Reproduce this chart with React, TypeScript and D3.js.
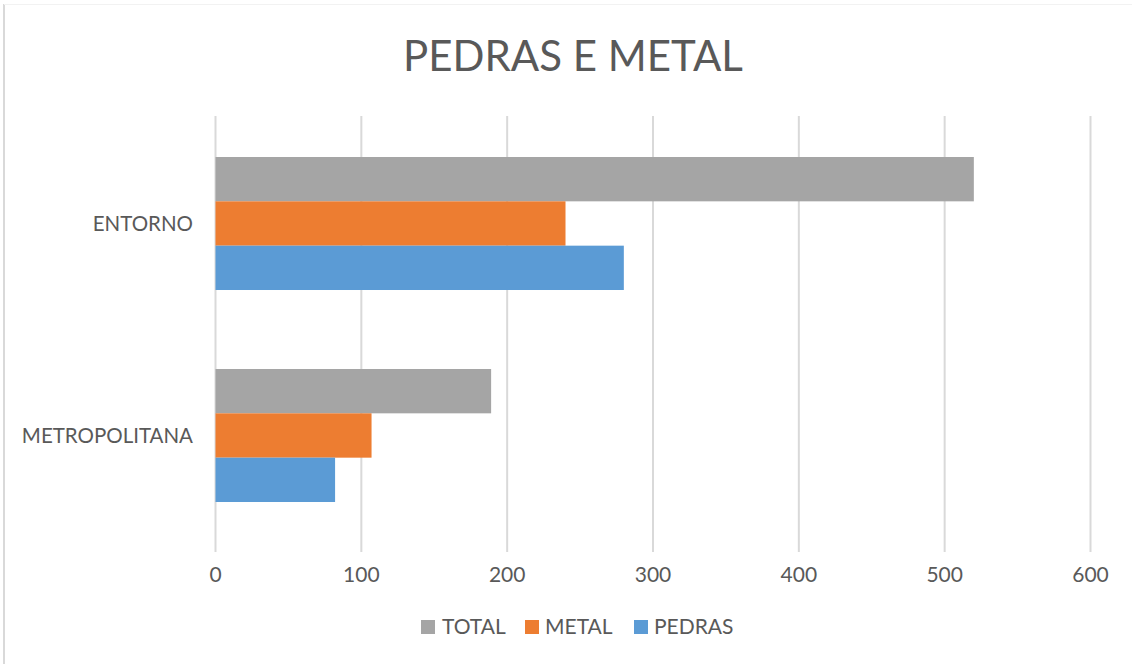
import React from "react";
import * as d3 from "d3";

const categories = ["ENTORNO", "METROPOLITANA"];
const seriesNames = ["TOTAL", "METAL", "PEDRAS"];
const totalValues = [520, 189];
const metalValues = [240, 107];
const pedrasValues = [280, 82];
const xTicks = [0, 100, 200, 300, 400, 500, 600];
const colors = ["#A5A5A5", "#ED7D31", "#5B9BD5"];

const W = 1132;
const H = 664;
const FONT = "Lato, 'Open Sans', sans-serif";
const TEXT = "#595959";

if (typeof document !== "undefined") document.body.style.margin = "0";

export default function App() {
  const x = d3.scaleLinear().domain([0, 600]).range([215.5, 1090.5]);
  const y = d3
    .scaleBand<string>()
    .domain(categories)
    .range([117.5, 541.5])
    .paddingInner(0.3726)
    .paddingOuter(0.1863);
  const sub = d3.scaleBand<string>().domain(seriesNames).range([0, y.bandwidth()]);
  const values = [totalValues, metalValues, pedrasValues];

  return (
    <svg width={W} height={H} style={{ display: "block" }} fontFamily={FONT}>
      <rect x={0} y={0} width={W} height={H} fill="#fff" />
      <line x1={4} x2={4} y1={4} y2={H} stroke="#D9D9D9" strokeWidth={2} />
      <line x1={4} x2={W} y1={4.5} y2={4.5} stroke="#F2F2F2" strokeWidth={1} />
      <text x={573} y={71} textAnchor="middle" fontSize={42} fontWeight={400} fill={TEXT}>
        PEDRAS E METAL
      </text>
      {xTicks.map((t) => (
        <g key={t}>
          <line x1={x(t)} x2={x(t)} y1={116} y2={552} stroke="#D9D9D9" strokeWidth={2} />
          <text x={x(t)} y={582} textAnchor="middle" fontSize={21} fill={TEXT}>
            {t}
          </text>
        </g>
      ))}
      {categories.map((c, ci) => (
        <g key={c}>
          {seriesNames.map((s, si) => (
            <rect
              key={s}
              x={x(0)}
              y={(y(c) as number) + (sub(s) as number)}
              width={x(values[si][ci]) - x(0)}
              height={sub.bandwidth()}
              fill={colors[si]}
            />
          ))}
          <text
            x={193}
            y={(y(c) as number) + y.bandwidth() / 2 + 7.5}
            textAnchor="end"
            fontSize={20.5}
            fill={TEXT}
          >
            {c}
          </text>
        </g>
      ))}
      {(() => {
        const items = [
          { name: "TOTAL", sx: 421, tx: 442 },
          { name: "METAL", sx: 525, tx: 545 },
          { name: "PEDRAS", sx: 634, tx: 654 },
        ];
        return items.map((it, i) => (
          <g key={it.name}>
            <rect x={it.sx} y={620} width={14} height={14} fill={colors[i]} />
            <text x={it.tx} y={634} fontSize={21} fill={TEXT}>
              {it.name}
            </text>
          </g>
        ));
      })()}
    </svg>
  );
}
